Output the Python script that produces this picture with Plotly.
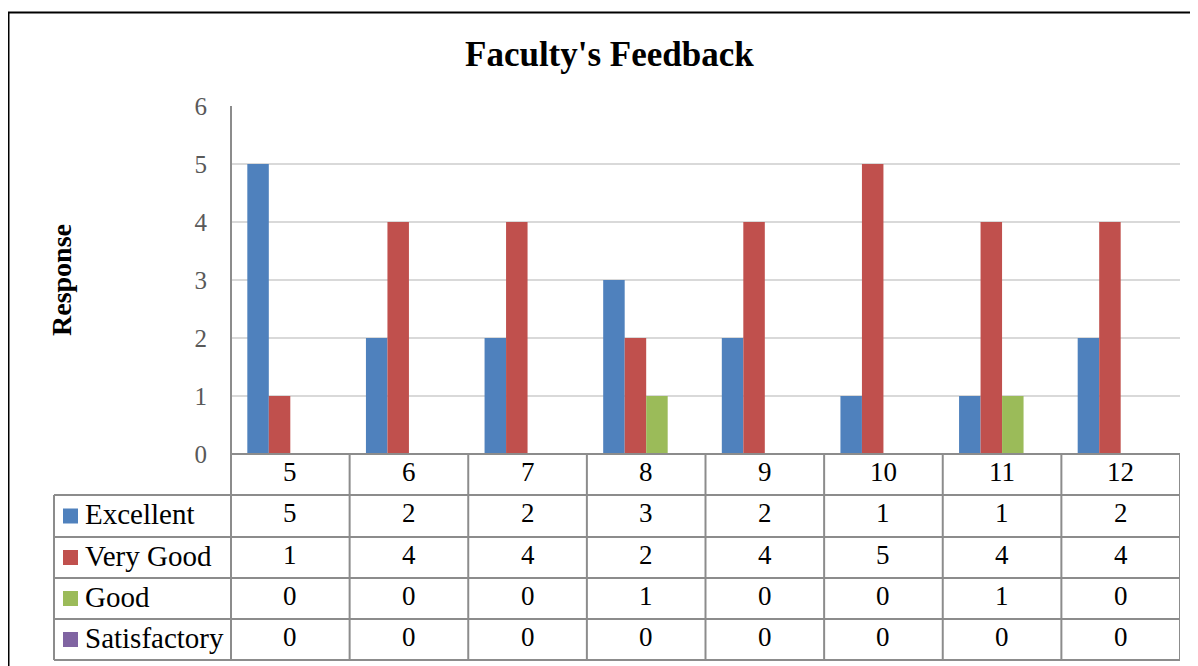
import plotly.graph_objects as go

# ---- data ----
categories = ["5", "6", "7", "8", "9", "10", "11", "12"]
series_names = ["Excellent", "Very Good", "Good", "Satisfactory"]
excellent = [5, 2, 2, 3, 2, 1, 1, 2]
very_good = [1, 4, 4, 2, 4, 5, 4, 4]
good = [0, 0, 0, 1, 0, 0, 1, 0]
satisfactory = [0, 0, 0, 0, 0, 0, 0, 0]
y_ticks = [0, 1, 2, 3, 4, 5, 6]
title_text = "Faculty's Feedback"
y_title = "Response"

series_values = [excellent, very_good, good, satisfactory]
colors = ["#4f81bd", "#c0504d", "#9bbb59", "#8064a2"]

OFF = 8  # page body margin
W, H = 1198 - OFF, 666 - OFF
def px(x):
    return (x - OFF) / W
def py(y):
    return 1 - (y - OFF) / H

SERIF = "Liberation Serif, Times New Roman, serif"
GRID = "#d9d9d9"
TBL = "#8c8c8c"

fig = go.Figure()
for name, vals, col in zip(series_names, series_values, colors):
    fig.add_trace(go.Bar(x=categories, y=vals, name=name, marker=dict(color=col, line=dict(width=0))))

plot_left, plot_right = 231, 1180
plot_top, plot_bottom = 106, 454
row_edges = [454, 495, 537, 578, 619, 660]
table_left = 54

shapes = []
# outer border (extends beyond the visible page on right/bottom)
shapes.append(dict(type="line", xref="paper", yref="paper", x0=px(8.5), x1=px(8.5), y0=py(12), y1=py(720),
                   line=dict(color="black", width=2)))
shapes.append(dict(type="line", xref="paper", yref="paper", x0=px(7.5), x1=px(1260), y0=py(12.5), y1=py(12.5),
                   line=dict(color="black", width=2)))
# y axis line extended to bottom of table
shapes.append(dict(type="line", xref="paper", yref="paper", x0=px(plot_left), x1=px(plot_left),
                   y0=py(plot_top), y1=py(row_edges[-1]), line=dict(color=TBL, width=2)))
# horizontal table lines
for i, ry in enumerate(row_edges):
    x0 = plot_left if i == 0 else table_left
    shapes.append(dict(type="line", xref="paper", yref="paper", x0=px(x0), x1=px(plot_right),
                       y0=py(ry), y1=py(ry), line=dict(color=TBL, width=2)))
# left edge of legend column
shapes.append(dict(type="line", xref="paper", yref="paper", x0=px(table_left), x1=px(table_left),
                   y0=py(row_edges[1]), y1=py(row_edges[-1]), line=dict(color=TBL, width=2)))
# vertical category lines (through x scale)
for k in range(1, len(categories) + 1):
    shapes.append(dict(type="line", xref="x", yref="paper", x0=k - 0.5, x1=k - 0.5,
                       y0=py(row_edges[0]), y1=py(row_edges[-1]), line=dict(color=TBL, width=2)))

annotations = []
annotations.append(dict(text="<b>" + title_text + "</b>", xref="paper", yref="paper", x=px(609), y=py(54),
                        showarrow=False, xanchor="center", yanchor="middle",
                        font=dict(family=SERIF, size=35, color="black")))
annotations.append(dict(text="<b>" + y_title + "</b>", xref="paper", yref="paper", x=px(61), y=py(280),
                        showarrow=False, textangle=-90, xanchor="center", yanchor="middle",
                        font=dict(family=SERIF, size=28, color="black")))
# header row: category labels
hc = (row_edges[0] + row_edges[1]) / 2 - 3
for i, c in enumerate(categories):
    annotations.append(dict(text=c, xref="x", yref="paper", x=i, y=py(hc), showarrow=False,
                            xanchor="center", yanchor="middle", font=dict(family=SERIF, size=27, color="black")))
# data rows
for r, (name, vals, col) in enumerate(zip(series_names, series_values, colors)):
    cy = (row_edges[r + 1] + row_edges[r + 2]) / 2
    shapes.append(dict(type="rect", xref="paper", yref="paper", x0=px(63), x1=px(78),
                       y0=py(cy - 7.5), y1=py(cy + 7.5), fillcolor=col, line=dict(width=0)))
    annotations.append(dict(text=name, xref="paper", yref="paper", x=px(83), y=py(cy - 2), showarrow=False,
                            xanchor="left", yanchor="middle", font=dict(family=SERIF, size=29, color="black")))
    for i, v in enumerate(vals):
        annotations.append(dict(text=str(v), xref="x", yref="paper", x=i, y=py(cy - 3), showarrow=False,
                                xanchor="center", yanchor="middle", font=dict(family=SERIF, size=27, color="black")))

fig.update_layout(
    width=W, height=H, autosize=False,
    margin=dict(l=0, r=0, t=0, b=0, pad=0, autoexpand=False),
    paper_bgcolor="white", plot_bgcolor="white",
    showlegend=False,
    barmode="group", bargap=0.275, bargroupgap=0,
    xaxis=dict(domain=[px(plot_left), px(plot_right)], range=[-0.5, len(categories) - 0.5],
               showticklabels=False, showgrid=False, zeroline=False, showline=False, ticks=""),
    yaxis=dict(domain=[py(plot_bottom), py(plot_top)], range=[0, 6], tickvals=y_ticks,
               showgrid=True, gridcolor=GRID, gridwidth=2, zeroline=False, showline=False,
               ticks="", ticklabelstandoff=23,
               tickfont=dict(family=SERIF, size=25, color="#595959")),
    shapes=shapes, annotations=annotations,
)

fig.write_html("out.html")
